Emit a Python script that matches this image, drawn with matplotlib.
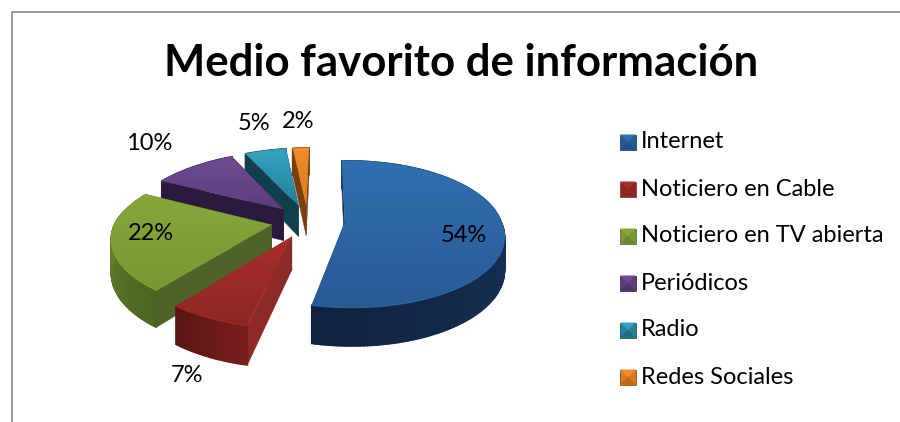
import numpy as np
import matplotlib
matplotlib.use('Agg')
import matplotlib.pyplot as plt
from matplotlib.patches import Polygon
from matplotlib.colors import to_rgb, LinearSegmentedColormap

title = 'Medio favorito de información'
labels = ['Internet', 'Noticiero en Cable', 'Noticiero en TV abierta', 'Periódicos', 'Radio', 'Redes Sociales']
values = [54, 7, 22, 10, 5, 2]

top_light = ['#3070b0', '#a82e2c', '#86a83a', '#6f4c92', '#32a4c0', '#f08c2c']
top_dark = ['#2a5a96', '#8c2724', '#789832', '#5c3e7c', '#26809c', '#dc7a20']
wall_light = ['#1c3e6c', '#7a1f1c', '#6f8e30', '#2a1a3e', '#123f4d', '#7a3f0e']
wall_dark = ['#10233f', '#5c1614', '#4c6422', '#2a1a3e', '#123f4d', '#7a3f0e']
cut_colors = ['#16305a', '#8c2a28', '#4f6228', '#2a1a3e', '#123f4d', '#7a3f0e']
label_pos = [(464, 236), (187, 375), (151, 234), (149, 143), (254, 124), (298, 122)]
legend_y = [142, 189, 236, 283, 330, 377]

# pie projection, all in pixels
cx, cy = 308, 221
rx, ry = 156, 71
explode = 0.236
persp = 0.16
depth = 32
first_angle = np.radians(-2)
back_shift = 7


def project(X, Y, drop=0):
    p = 1 / (1 - persp * Y)
    return cx + rx * X * p - back_shift * min(Y, 0), cy + ry * Y * p + drop * p


def gradient_fill(ax, poly_xy, c1, c2, z):
    poly = Polygon(poly_xy, closed=True, fc='none', ec='none', zorder=z)
    ax.add_patch(poly)
    cmap = LinearSegmentedColormap.from_list('g', [c1, c2])
    x0, y0 = poly_xy.min(axis=0)
    x1, y1 = poly_xy.max(axis=0)
    im = ax.imshow(np.linspace(0, 1, 64).reshape(-1, 1), cmap=cmap, aspect='auto',
                   extent=(x0, x1, y1, y0), zorder=z, interpolation='bilinear')
    im.set_clip_path(poly)


fig = plt.figure(figsize=(9, 4.22), dpi=100)
ax = fig.add_axes([0, 0, 1, 1])

shares = np.array(values) / sum(values) * 2 * np.pi
ends = np.cumsum(shares) + first_angle
starts = ends - shares

# back slices first so the front ones cover them
z = 2
for i in sorted(range(len(values)), key=lambda i: -np.cos((starts[i] + ends[i]) / 2)):
    mid = (starts[i] + ends[i]) / 2
    ox, oy = explode * np.sin(mid), -explode * np.cos(mid)
    th = np.linspace(starts[i], ends[i], max(8, int(np.degrees(shares[i]))))
    X = ox + np.sin(th)
    Y = oy - np.cos(th)

    # cut faces
    for t in (starts[i], ends[i]):
        ex, ey = ox + np.sin(t), oy - np.cos(t)
        quad = np.array([project(ox, oy), project(ex, ey), project(ex, ey, depth), project(ox, oy, depth)])
        ax.add_patch(Polygon(quad, closed=True, fc=cut_colors[i], ec=cut_colors[i], lw=0.3, zorder=z))
    z += 1

    # outer wall as thin strips
    c1, c2 = np.array(to_rgb(wall_light[i])), np.array(to_rgb(wall_dark[i]))
    for j in range(len(th) - 1):
        f = j / max(1, len(th) - 2)
        if i == 2:
            f = 1 - f
        col = c1 + (c2 - c1) * f
        quad = np.array([project(X[j], Y[j]), project(X[j + 1], Y[j + 1]),
                         project(X[j + 1], Y[j + 1], depth), project(X[j], Y[j], depth)])
        ax.add_patch(Polygon(quad, closed=True, fc=col, ec=col, lw=1.2, zorder=z))
    z += 1

    # top face
    rim = np.array([project(a, b) for a, b in zip(X, Y)])
    face = np.vstack([project(ox, oy), rim])
    gradient_fill(ax, face, top_light[i], top_dark[i], z)
    z += 1
    ax.plot(rim[:, 0], rim[:, 1], color=top_light[i], lw=0.8, alpha=0.8, zorder=z)
    z += 1

for (px, py), v in zip(label_pos, values):
    ax.text(px, py, f'{v}%', family='Lato', fontsize=17, ha='center', va='center', color='black', zorder=z)

ax.text(461, 63, title, family='Lato', fontsize=31.5, fontweight='bold', ha='center', va='center', color='black')

# legend keys with a bevelled look
for lab, ly, c1, c2, w in zip(labels, legend_y, top_light, top_dark, cut_colors):
    x0, x1, y0, y1 = 620, 635.5, ly - 7.5, ly + 7.5
    xm, ym = (x0 + x1) / 2, (y0 + y1) / 2
    ax.add_patch(Polygon([(x0, y0), (x1, y0), (x1, y1), (x0, y1)], closed=True, fc=c2, ec=w, lw=0.5, zorder=z))
    ax.add_patch(Polygon([(x0, y0), (x1, y0), (xm, ym)], closed=True, fc=c1, ec='none', zorder=z + 1))
    ax.add_patch(Polygon([(x0, y1), (x1, y1), (xm, ym)], closed=True, fc=w, ec='none', alpha=0.3, zorder=z + 1))
    ax.text(641, ly, lab, family='Lato', fontsize=17, ha='left', va='center', color='black', zorder=z)

# chart frame, open at the right and bottom
ax.plot([11.5, 11.5, 900], [422, 11.5, 11.5], color='#9a9a9a', lw=1.4, solid_capstyle='butt')

ax.set_xlim(0, 900)
ax.set_ylim(422, 0)
ax.axis('off')
fig.savefig('out.png', dpi=100, facecolor='white')
